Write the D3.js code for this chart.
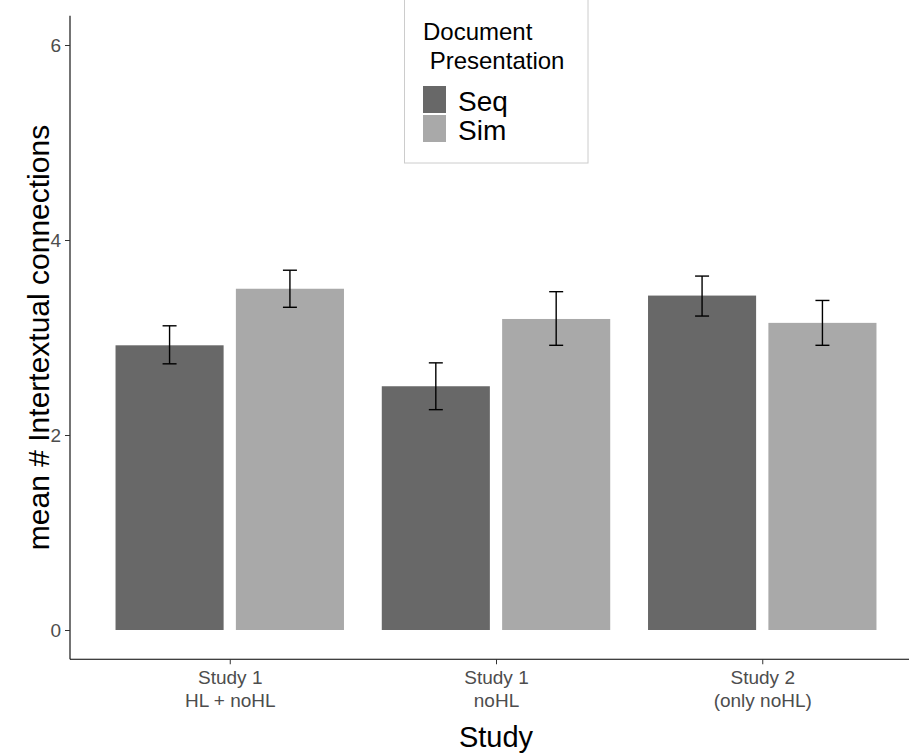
<!DOCTYPE html>
<html>
<head>
<meta charset="utf-8">
<script src="https://cdn.jsdelivr.net/npm/d3@7"></script>
<style>
  html, body { margin: 0; padding: 0; background: #fff; }
  svg { display: block; font-family: "Liberation Sans", Arial, sans-serif; }
</style>
</head>
<body>
<svg id="chart" width="909" height="756"></svg>
<script>
// Study groups (two-line tick labels) and presentation conditions
const studies = ["Study 1\nHL + noHL", "Study 1\nnoHL", "Study 2\n(only noHL)"];
const conditions = ["Seq", "Sim"];

// Mean number of intertextual connections per study and condition
const seqMeans = [2.92, 2.50, 3.43];
const simMeans = [3.50, 3.19, 3.15];

// Error bar bounds (lower, upper)
const seqLower = [2.73, 2.26, 3.22];
const seqUpper = [3.12, 2.74, 3.63];
const simLower = [3.31, 2.92, 2.92];
const simUpper = [3.69, 3.47, 3.38];

const yTicks = [0, 2, 4, 6];
const colors = { Seq: "#686868", Sim: "#a9a9a9" };

const rows = [];
studies.forEach((s, i) => {
  rows.push({ study: s, cond: "Seq", mean: seqMeans[i], lo: seqLower[i], hi: seqUpper[i] });
  rows.push({ study: s, cond: "Sim", mean: simMeans[i], lo: simLower[i], hi: simUpper[i] });
});

const svg = d3.select("#chart");
const panel = { left: 70, right: 922, top: 15.75, bottom: 659.25 };

const x = d3.scalePoint().domain(studies).range([panel.left, panel.right]).padding(0.6);
const groupW = x.step() * 0.858;
const xInner = d3.scaleBand().domain(conditions).range([-groupW / 2, groupW / 2]).paddingInner(0.102);
const y = d3.scaleLinear().domain([-0.3, 6.3]).range([panel.bottom, panel.top]);

// Bars
svg.append("g").selectAll("rect").data(rows).join("rect")
  .attr("x", d => x(d.study) + xInner(d.cond))
  .attr("width", xInner.bandwidth())
  .attr("y", d => y(d.mean))
  .attr("height", d => y(0) - y(d.mean))
  .attr("fill", d => colors[d.cond]);

// Error bars
const capW = 14;
const eb = svg.append("g").attr("stroke", "#000").attr("stroke-width", 1.4).attr("fill", "none");
rows.forEach(d => {
  const cx = x(d.study) + xInner(d.cond) + xInner.bandwidth() / 2;
  eb.append("line").attr("x1", cx).attr("x2", cx).attr("y1", y(d.lo)).attr("y2", y(d.hi));
  eb.append("line").attr("x1", cx - capW / 2).attr("x2", cx + capW / 2).attr("y1", y(d.lo)).attr("y2", y(d.lo));
  eb.append("line").attr("x1", cx - capW / 2).attr("x2", cx + capW / 2).attr("y1", y(d.hi)).attr("y2", y(d.hi));
});

// Y axis
const yAxis = svg.append("g").attr("transform", `translate(${panel.left},0)`)
  .call(d3.axisLeft(y).tickValues(yTicks).tickSize(5).tickPadding(4).tickFormat(d3.format("d")));
yAxis.select(".domain").attr("d", `M0,${panel.top}V${panel.bottom}`).attr("stroke", "#000").attr("stroke-width", 1.1);
yAxis.selectAll(".tick line").attr("stroke", "#333");
yAxis.selectAll(".tick text").attr("fill", "#4d4d4d").attr("font-size", 19)
  .attr("font-family", "Liberation Sans, Arial, sans-serif");

// X axis
const xAxis = svg.append("g").attr("transform", `translate(0,${panel.bottom})`)
  .call(d3.axisBottom(x).tickSize(5).tickFormat(""));
xAxis.select(".domain").attr("d", `M${panel.left},0H${panel.right}`).attr("stroke", "#000").attr("stroke-width", 1.1);
xAxis.selectAll(".tick line").attr("stroke", "#333");
xAxis.selectAll(".tick").each(function(d) {
  const t = d3.select(this).append("text")
    .attr("fill", "#4d4d4d").attr("font-size", 19).attr("text-anchor", "middle")
    .attr("font-family", "Liberation Sans, Arial, sans-serif");
  d.split("\n").forEach((line, i) => {
    t.append("tspan").attr("x", 0).attr("y", 25 + i * 23).text(line);
  });
});

// Axis titles
svg.append("text").attr("x", x(studies[1])).attr("y", 747)
  .attr("text-anchor", "middle").attr("font-size", 29).attr("fill", "#000").text("Study");
svg.append("text")
  .attr("transform", `translate(49,${(panel.top + panel.bottom) / 2}) rotate(-90)`)
  .attr("text-anchor", "middle").attr("font-size", 30).attr("fill", "#000")
  .text("mean # Intertextual connections");

// Legend
const lg = svg.append("g");
lg.append("rect").attr("x", 404.5).attr("y", -5).attr("width", 183.5).attr("height", 168)
  .attr("fill", "#fff").attr("stroke", "#cccccc").attr("stroke-width", 1);
lg.append("text").attr("x", 423).attr("y", 40).attr("font-size", 24).attr("fill", "#000").text("Document");
lg.append("text").attr("x", 423).attr("y", 69).attr("font-size", 24).attr("fill", "#000")
  .attr("xml:space", "preserve").text(" Presentation");
conditions.forEach((c, i) => {
  lg.append("rect").attr("x", 423).attr("y", 86 + i * 29).attr("width", 23).attr("height", 27)
    .attr("fill", colors[c]);
  lg.append("text").attr("x", 458).attr("y", 111 + i * 29).attr("font-size", 28).attr("fill", "#000").text(c);
});
</script>
</body>
</html>
